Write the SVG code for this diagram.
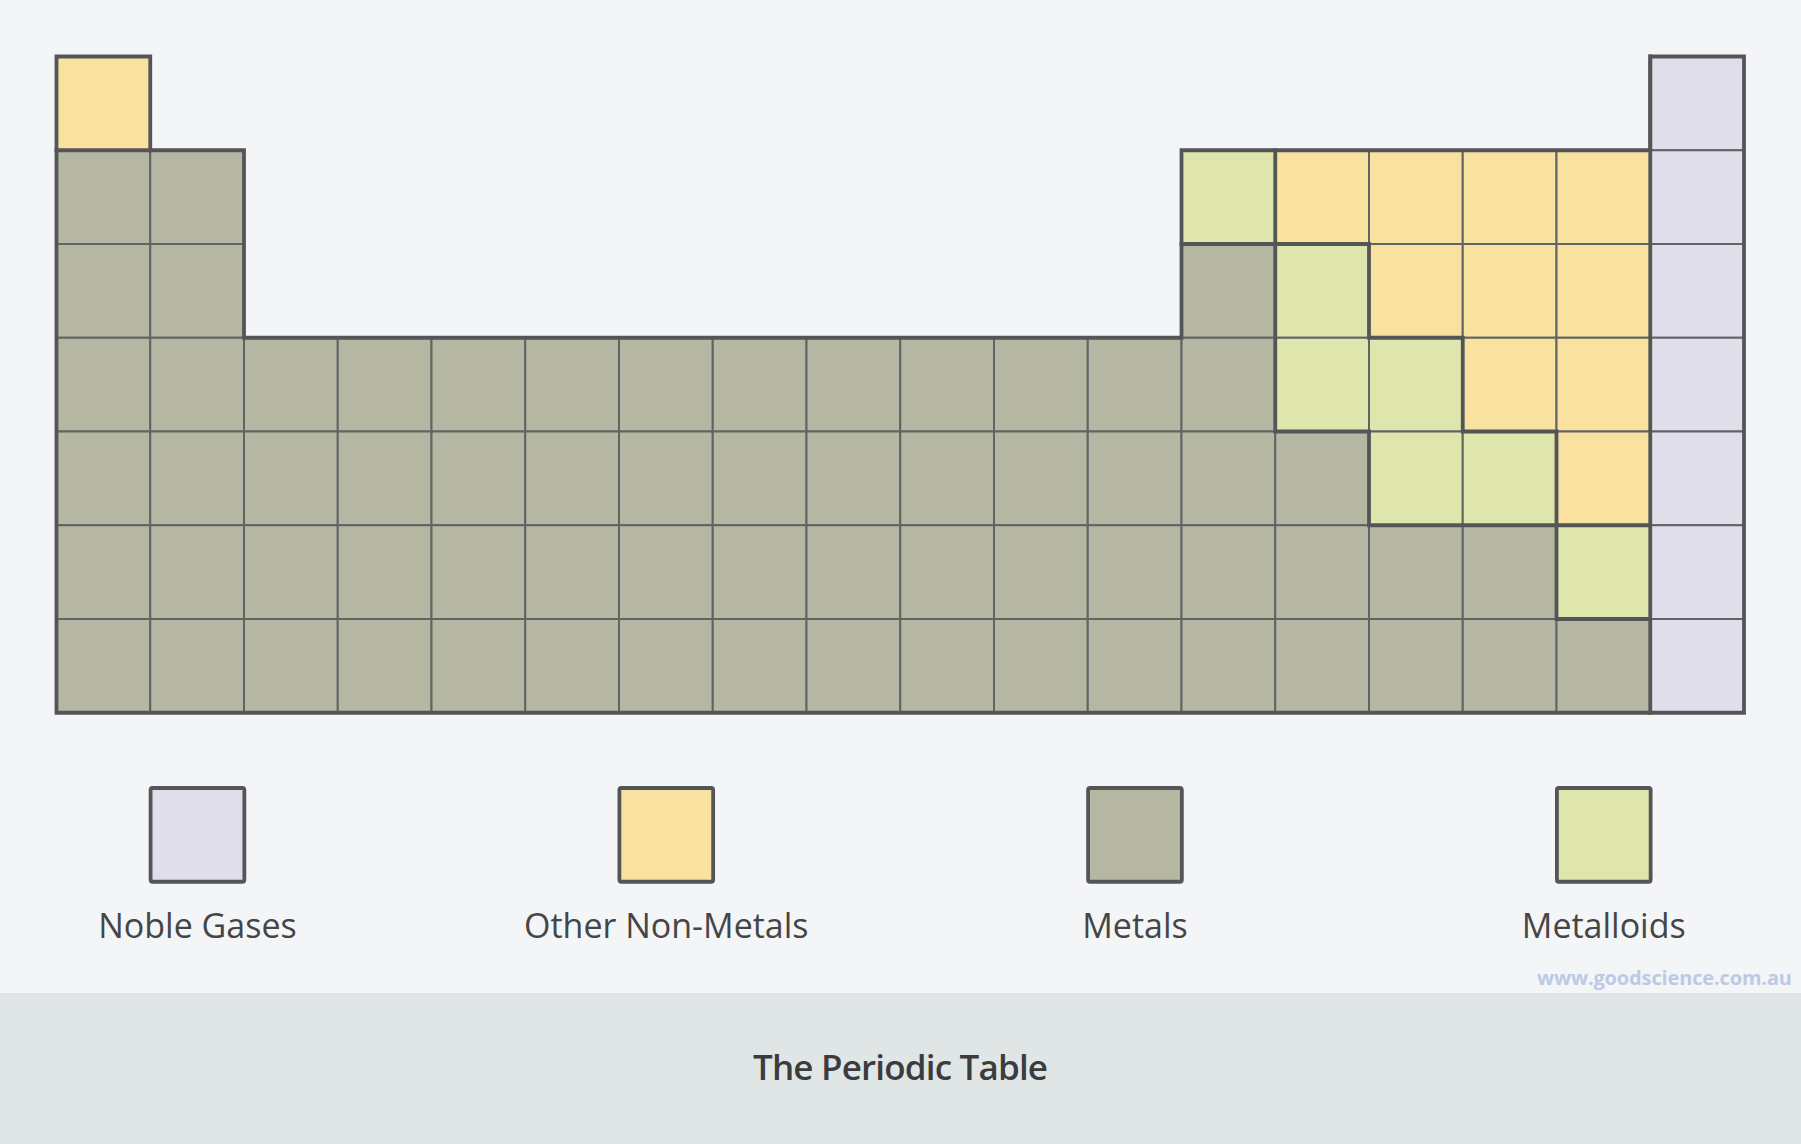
<svg xmlns="http://www.w3.org/2000/svg" width="1801" height="1144" viewBox="0 0 1801 1144">
<style>
.c{stroke:#626365;stroke-width:2}
.N{fill:#f9e1a0}.M{fill:#b5b7a2}.L{fill:#dee5ad}.G{fill:#dfdeea}
.thick{fill:none;stroke:#545557;stroke-width:3.8;stroke-linecap:square;stroke-linejoin:miter}
.lg{stroke:#545557;stroke-width:3.8}
.lbl{font-family:"Open Sans","Noto Sans","Liberation Sans",sans-serif;font-size:34px;fill:#454547;text-anchor:middle}
</style>
<rect x="0" y="0" width="1801" height="1144" fill="#f4f5f7"/>
<rect x="0" y="993" width="1801" height="151" fill="#e0e6e6"/>

<g id="table">
<g id="row1" transform="translate(0,56.5)">
<rect class="c N" x="56.5" y="0" width="93.75" height="93.75"/>
<rect class="c G" x="1650.25" y="0" width="93.75" height="93.75"/>
</g>
<g id="row2" transform="translate(0,150.25)">
<rect class="c M" x="56.5" y="0" width="93.75" height="93.75"/>
<rect class="c M" x="150.25" y="0" width="93.75" height="93.75"/>
<rect class="c L" x="1181.5" y="0" width="93.75" height="93.75"/>
<rect class="c N" x="1275.25" y="0" width="93.75" height="93.75"/>
<rect class="c N" x="1369" y="0" width="93.75" height="93.75"/>
<rect class="c N" x="1462.75" y="0" width="93.75" height="93.75"/>
<rect class="c N" x="1556.5" y="0" width="93.75" height="93.75"/>
<rect class="c G" x="1650.25" y="0" width="93.75" height="93.75"/>
</g>
<g id="row3" transform="translate(0,244)">
<rect class="c M" x="56.5" y="0" width="93.75" height="93.75"/>
<rect class="c M" x="150.25" y="0" width="93.75" height="93.75"/>
<rect class="c M" x="1181.5" y="0" width="93.75" height="93.75"/>
<rect class="c L" x="1275.25" y="0" width="93.75" height="93.75"/>
<rect class="c N" x="1369" y="0" width="93.75" height="93.75"/>
<rect class="c N" x="1462.75" y="0" width="93.75" height="93.75"/>
<rect class="c N" x="1556.5" y="0" width="93.75" height="93.75"/>
<rect class="c G" x="1650.25" y="0" width="93.75" height="93.75"/>
</g>
<g id="row4" transform="translate(0,337.75)">
<rect class="c M" x="56.5" y="0" width="93.75" height="93.75"/>
<rect class="c M" x="150.25" y="0" width="93.75" height="93.75"/>
<rect class="c M" x="244" y="0" width="93.75" height="93.75"/>
<rect class="c M" x="337.75" y="0" width="93.75" height="93.75"/>
<rect class="c M" x="431.5" y="0" width="93.75" height="93.75"/>
<rect class="c M" x="525.25" y="0" width="93.75" height="93.75"/>
<rect class="c M" x="619" y="0" width="93.75" height="93.75"/>
<rect class="c M" x="712.75" y="0" width="93.75" height="93.75"/>
<rect class="c M" x="806.5" y="0" width="93.75" height="93.75"/>
<rect class="c M" x="900.25" y="0" width="93.75" height="93.75"/>
<rect class="c M" x="994" y="0" width="93.75" height="93.75"/>
<rect class="c M" x="1087.75" y="0" width="93.75" height="93.75"/>
<rect class="c M" x="1181.5" y="0" width="93.75" height="93.75"/>
<rect class="c L" x="1275.25" y="0" width="93.75" height="93.75"/>
<rect class="c L" x="1369" y="0" width="93.75" height="93.75"/>
<rect class="c N" x="1462.75" y="0" width="93.75" height="93.75"/>
<rect class="c N" x="1556.5" y="0" width="93.75" height="93.75"/>
<rect class="c G" x="1650.25" y="0" width="93.75" height="93.75"/>
</g>
<g id="row5" transform="translate(0,431.5)">
<rect class="c M" x="56.5" y="0" width="93.75" height="93.75"/>
<rect class="c M" x="150.25" y="0" width="93.75" height="93.75"/>
<rect class="c M" x="244" y="0" width="93.75" height="93.75"/>
<rect class="c M" x="337.75" y="0" width="93.75" height="93.75"/>
<rect class="c M" x="431.5" y="0" width="93.75" height="93.75"/>
<rect class="c M" x="525.25" y="0" width="93.75" height="93.75"/>
<rect class="c M" x="619" y="0" width="93.75" height="93.75"/>
<rect class="c M" x="712.75" y="0" width="93.75" height="93.75"/>
<rect class="c M" x="806.5" y="0" width="93.75" height="93.75"/>
<rect class="c M" x="900.25" y="0" width="93.75" height="93.75"/>
<rect class="c M" x="994" y="0" width="93.75" height="93.75"/>
<rect class="c M" x="1087.75" y="0" width="93.75" height="93.75"/>
<rect class="c M" x="1181.5" y="0" width="93.75" height="93.75"/>
<rect class="c M" x="1275.25" y="0" width="93.75" height="93.75"/>
<rect class="c L" x="1369" y="0" width="93.75" height="93.75"/>
<rect class="c L" x="1462.75" y="0" width="93.75" height="93.75"/>
<rect class="c N" x="1556.5" y="0" width="93.75" height="93.75"/>
<rect class="c G" x="1650.25" y="0" width="93.75" height="93.75"/>
</g>
<g id="row6" transform="translate(0,525.25)">
<rect class="c M" x="56.5" y="0" width="93.75" height="93.75"/>
<rect class="c M" x="150.25" y="0" width="93.75" height="93.75"/>
<rect class="c M" x="244" y="0" width="93.75" height="93.75"/>
<rect class="c M" x="337.75" y="0" width="93.75" height="93.75"/>
<rect class="c M" x="431.5" y="0" width="93.75" height="93.75"/>
<rect class="c M" x="525.25" y="0" width="93.75" height="93.75"/>
<rect class="c M" x="619" y="0" width="93.75" height="93.75"/>
<rect class="c M" x="712.75" y="0" width="93.75" height="93.75"/>
<rect class="c M" x="806.5" y="0" width="93.75" height="93.75"/>
<rect class="c M" x="900.25" y="0" width="93.75" height="93.75"/>
<rect class="c M" x="994" y="0" width="93.75" height="93.75"/>
<rect class="c M" x="1087.75" y="0" width="93.75" height="93.75"/>
<rect class="c M" x="1181.5" y="0" width="93.75" height="93.75"/>
<rect class="c M" x="1275.25" y="0" width="93.75" height="93.75"/>
<rect class="c M" x="1369" y="0" width="93.75" height="93.75"/>
<rect class="c M" x="1462.75" y="0" width="93.75" height="93.75"/>
<rect class="c L" x="1556.5" y="0" width="93.75" height="93.75"/>
<rect class="c G" x="1650.25" y="0" width="93.75" height="93.75"/>
</g>
<g id="row7" transform="translate(0,619)">
<rect class="c M" x="56.5" y="0" width="93.75" height="93.75"/>
<rect class="c M" x="150.25" y="0" width="93.75" height="93.75"/>
<rect class="c M" x="244" y="0" width="93.75" height="93.75"/>
<rect class="c M" x="337.75" y="0" width="93.75" height="93.75"/>
<rect class="c M" x="431.5" y="0" width="93.75" height="93.75"/>
<rect class="c M" x="525.25" y="0" width="93.75" height="93.75"/>
<rect class="c M" x="619" y="0" width="93.75" height="93.75"/>
<rect class="c M" x="712.75" y="0" width="93.75" height="93.75"/>
<rect class="c M" x="806.5" y="0" width="93.75" height="93.75"/>
<rect class="c M" x="900.25" y="0" width="93.75" height="93.75"/>
<rect class="c M" x="994" y="0" width="93.75" height="93.75"/>
<rect class="c M" x="1087.75" y="0" width="93.75" height="93.75"/>
<rect class="c M" x="1181.5" y="0" width="93.75" height="93.75"/>
<rect class="c M" x="1275.25" y="0" width="93.75" height="93.75"/>
<rect class="c M" x="1369" y="0" width="93.75" height="93.75"/>
<rect class="c M" x="1462.75" y="0" width="93.75" height="93.75"/>
<rect class="c M" x="1556.5" y="0" width="93.75" height="93.75"/>
<rect class="c G" x="1650.25" y="0" width="93.75" height="93.75"/>
</g>
</g>

<g id="borders">
<path class="thick" d="M56.5 56.5 H150.25 V150.25 H244 V337.75 H1181.5 V150.25 H1650.25 V56.5 H1744 V712.75 H56.5 Z"/>
<path class="thick" d="M56.5 150.25 H150.25 M1650.25 56.5 V712.75 M1275.25 150.25 V431.5 M1181.5 244 H1369 M1369 244 V337.75 M1369 337.75 H1462.75 M1462.75 337.75 V431.5 M1275.25 431.5 H1369 M1369 431.5 V525.25 M1462.75 431.5 H1556.5 M1556.5 431.5 V619 M1369 525.25 H1650.25 M1556.5 619 H1650.25"/>
</g>

<g id="legend-noble">
<rect class="lg G" x="150.6" y="788" width="93.75" height="93.75" rx="2"/>
<text class="lbl" x="197.5" y="938">Noble Gases</text>
</g>
<g id="legend-nonmetals">
<rect class="lg N" x="619.4" y="788" width="93.75" height="93.75" rx="2"/>
<text class="lbl" x="666.25" y="938">Other Non-Metals</text>
</g>
<g id="legend-metals">
<rect class="lg M" x="1088.1" y="788" width="93.75" height="93.75" rx="2"/>
<text class="lbl" x="1135" y="938">Metals</text>
</g>
<g id="legend-metalloids">
<rect class="lg L" x="1556.9" y="788" width="93.75" height="93.75" rx="2"/>
<text class="lbl" x="1603.75" y="938">Metalloids</text>
</g>

<text id="watermark" x="1792" y="985" text-anchor="end" font-family="'Open Sans','Noto Sans','Liberation Sans',sans-serif" font-weight="700" font-size="20" fill="#bccae4" textLength="255">www.goodscience.com.au</text>
<text id="title" x="900.5" y="1080" text-anchor="middle" font-family="'Open Sans','Noto Sans','Liberation Sans',sans-serif" font-weight="600" font-size="35" fill="#3c3c3e" textLength="295">The Periodic Table</text>
</svg>
